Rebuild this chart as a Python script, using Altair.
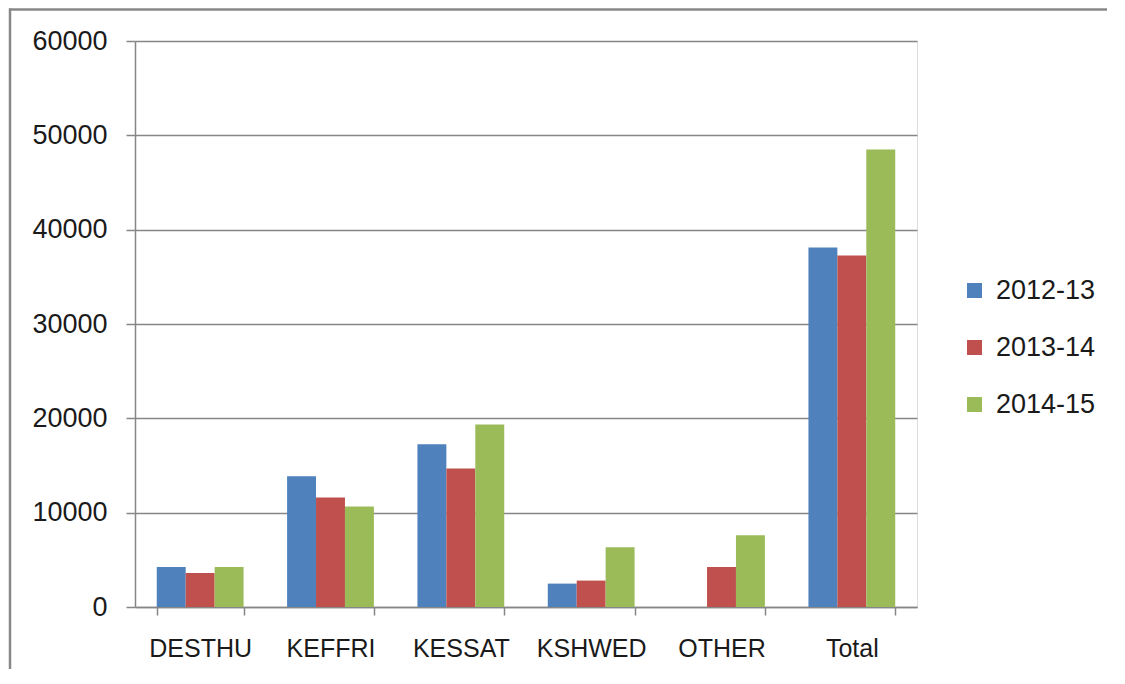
import altair as alt
import pandas as pd

categories = ["DESTHU", "KEFFRI", "KESSAT", "KSHWED", "OTHER", "Total"]
series_names = ["2012-13", "2013-14", "2014-15"]
values_2012_13 = [4240, 13860, 17250, 2480, 0, 38100]
values_2013_14 = [3600, 11600, 14680, 2800, 4240, 37260]
values_2014_15 = [4240, 10650, 19340, 6330, 7600, 48500]
colors = ["#4F81BD", "#C0504D", "#9BBB59"]
y_ticks = [0, 10000, 20000, 30000, 40000, 50000, 60000]

rows = []
for name, vals in zip(series_names, [values_2012_13, values_2013_14, values_2014_15]):
    for c, v in zip(categories, vals):
        rows.append({"category": c, "series": name, "value": v})
df = pd.DataFrame(rows)

FONT = "Liberation Sans"

bars = alt.Chart(df).mark_bar().encode(
    x=alt.X("category:N", sort=categories, title=None,
            scale=alt.Scale(paddingInner=0.334, paddingOuter=0.167),
            axis=alt.Axis(labelAngle=0, labelFontSize=25, labelFont=FONT, labelColor="#1a1a1a",
                          domainColor="#868686", domainWidth=1.5, tickColor="#868686",
                          tickWidth=1.5, tickSize=8, tickBand="extent", labelPadding=21,
                          grid=False)),
    xOffset=alt.XOffset("series:N", sort=series_names),
    y=alt.Y("value:Q", title=None,
            scale=alt.Scale(domain=[0, 60000], nice=False),
            axis=alt.Axis(values=y_ticks, format="d", labelFontSize=27, labelFont=FONT,
                          labelColor="#1a1a1a", domainColor="#868686", domainWidth=1.5,
                          tickColor="#868686", tickWidth=1.5, tickSize=9, labelPadding=19,
                          gridColor="#868686", gridWidth=1.5, grid=True)),
    color=alt.Color("series:N", sort=series_names,
                    scale=alt.Scale(domain=series_names, range=colors),
                    legend=alt.Legend(title=None, orient="none", legendX=826, legendY=236,
                                      symbolType="square", symbolSize=225, symbolStrokeWidth=0,
                                      labelFontSize=27, labelFont=FONT, labelColor="#1a1a1a",
                                      rowPadding=29, labelOffset=8)),
)

frame_top = alt.Chart(pd.DataFrame({"a": [0]})).mark_rule(
    stroke="#888888", strokeWidth=2.5
).encode(x=alt.value(-126), x2=alt.value(1300), y=alt.value(-31.5))

frame_left = alt.Chart(pd.DataFrame({"a": [0]})).mark_rule(
    stroke="#888888", strokeWidth=2.5
).encode(x=alt.value(-125), y=alt.value(-32.5), y2=alt.value(900))

chart = alt.layer(bars, frame_top, frame_left).properties(
    width=782, height=566,
    autosize=alt.AutoSizeParams(type="none"),
    padding={"left": 127, "top": 33, "right": 190, "bottom": 62},
).configure_view(stroke=None).configure(background="white")

chart.save("out.html", embed_options={"renderer": "svg", "actions": False})
